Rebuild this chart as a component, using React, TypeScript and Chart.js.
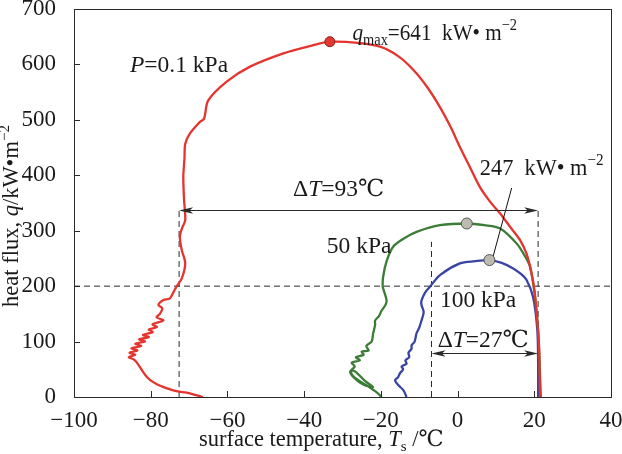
import React, { useEffect, useRef } from 'react';
import { Chart, registerables } from 'chart.js';

Chart.register(...registerables);

// ---- axes ----
const X_MIN = -100;
const X_MAX = 40;
const X_STEP = 20;
const Y_MIN = 0;
const Y_MAX = 700;
const Y_STEP = 100;

// ---- P = 0.1 kPa (red) ----
const p01Temp = [-66.4, -68.5, -70.6, -73, -75.5, -78.4, -81, -83.7, -84.5, -85.7, -84, -85.5, -83.5, -85, -82.5, -84, -81.5, -83, -80.5, -82, -79.5, -80.5, -78.4, -79.5, -76.7, -78.5, -77.6, -77, -78, -76.7, -75, -74, -73.2, -71.9, -71, -71.9, -72.4, -71.8, -71, -71.3, -71.5, -71.2, -71, -69.8, -67.2, -66.1, -65, -60.2, -54.1, -45.4, -38, -33.3, -26, -20.2, -15.5, -11.5, -7.8, -4.6, -1.8, 0.6, 3.2, 5.8, 8.5, 11.1, 13.8, 16.3, 18, 19.3, 20.1, 20.6, 21.1, 21.3, 21.4, 21.5];
const p01Flux = [0, 4, 8, 10, 15, 23, 36, 63, 68, 72, 76, 80, 84, 88, 92, 96, 100, 104, 108, 112, 117, 122, 126, 131, 138, 144, 150, 160, 166, 175, 178, 190, 200, 214, 241, 265, 289, 305, 319, 355, 397, 430, 457, 475, 496, 502, 535, 569, 596, 620, 634, 641, 639, 632, 615, 590, 558, 523, 487, 451, 415, 379, 352, 331, 306, 283, 258, 223, 190, 150, 110, 80, 40, 0];

// ---- P = 50 kPa (green) ----
const p50Temp = [-19.8, -21, -23.5, -25.8, -27.5, -27.8, -26.5, -24, -22, -24.5, -27, -28, -26.8, -27.6, -25.5, -26.5, -24.5, -25, -23.2, -23.8, -22.4, -22, -21.5, -21.5, -20.5, -19.8, -18.8, -18.5, -18.9, -19.5, -19.4, -18.5, -16.8, -14, -10.7, -4.6, 2.4, 7, 11.1, 15.4, 17.5, 18.9, 20.2, 21, 21.4, 21.7];
const p50Flux = [0, 8, 20, 30, 40, 48, 45, 28, 18, 22, 35, 46, 55, 62, 66, 72, 76, 82, 84, 92, 100, 115, 130, 138, 146, 156, 166, 174, 185, 199, 217, 245, 271, 286, 298, 310, 313, 310, 304, 277, 255, 235, 180, 120, 60, 0];

// ---- P = 100 kPa (blue) ----
const p100Temp = [-13.3, -14.1, -15.4, -16.3, -15.5, -15, -14.2, -14.6, -13.3, -13.6, -12.6, -12.8, -12, -12, -11.2, -10.7, -10, -9.4, -8.9, -8.9, -9.4, -9.4, -8.5, -7.2, -4.6, 0.6, 4.5, 8.3, 11.5, 14.5, 16.5, 18, 19.7, 20.8, 21, 21];
const p100Flux = [0, 12, 21, 30, 36, 43, 50, 55, 60, 66, 72, 80, 87, 93, 100, 115, 125, 138, 150, 156, 166, 174, 188, 199, 220, 241, 245, 247, 242, 232, 222, 211, 180, 120, 60, 0];

// ---- critical heat flux markers ----
const chfTemp = [-33.3, 2.4, 8.3];
const chfFlux = [641, 313, 247];

// ---- reference values ----
const refFlux = 200;
const dTLeft93 = -72.6;
const dTRight = 21;
const dTLeft27 = -6.8;
const arrow93Flux = 337;
const arrow27Flux = 79;
const vLine27Top = 280;
const leaderTemp = [14.1, 9.2];
const leaderFlux = [377, 252];

const RED = '#e5332e';
const GREEN = '#3b7d35';
const BLUE = '#3a45a3';
const INK = '#2a2a2a';
const FONT = '"Liberation Serif", "DejaVu Serif", "Times New Roman", serif';
const FS = 23.5;
const TFS = 23;

type Run = { t: string; i?: boolean; sub?: boolean; sup?: boolean };

const zip = (xs: number[], ys: number[]) => xs.map((x, k) => ({ x, y: ys[k] }));

function runFont(r: Run, size: number) {
  const s = r.sub || r.sup ? Math.round(size * 0.66) : size;
  return `${r.i ? 'italic ' : ''}${s}px ${FONT}`;
}
function runsWidth(ctx: CanvasRenderingContext2D, runs: Run[], size: number) {
  let w = 0;
  for (const r of runs) {
    ctx.font = runFont(r, size);
    w += ctx.measureText(r.t).width;
  }
  return w;
}
function drawRuns(ctx: CanvasRenderingContext2D, x: number, y: number, runs: Run[], size: number, sx = 1) {
  ctx.save();
  ctx.translate(x, y);
  ctx.scale(sx, 1);
  ctx.textBaseline = 'alphabetic';
  ctx.textAlign = 'left';
  let cx = 0;
  for (const r of runs) {
    ctx.font = runFont(r, size);
    const dy = r.sub ? size * 0.22 : r.sup ? -size * 0.42 : 0;
    ctx.fillText(r.t, cx, dy);
    cx += ctx.measureText(r.t).width;
  }
  ctx.restore();
}

// annotation anchors (left, baseline) in data units
const labels: { x: number; y: number; runs: Run[]; sx?: number }[] = [
  { x: -85.4, y: 586, runs: [{ t: 'P', i: true }, { t: '=0.1 kPa' }] },
  { x: -27.4, y: 644, sx: 0.9, runs: [{ t: 'q', i: true }, { t: 'max', sub: true }, { t: '=641  kW• m' }, { t: '−2', sup: true }] },
  { x: 5.8, y: 400, sx: 0.95, runs: [{ t: '247  kW• m' }, { t: '−2', sup: true }] },
  { x: -42.9, y: 363, runs: [{ t: 'Δ' }, { t: 'T', i: true }, { t: '=93℃' }] },
  { x: -34.1, y: 259, runs: [{ t: '50 kPa' }] },
  { x: -4.6, y: 162, runs: [{ t: '100 kPa' }] },
  { x: -5.2, y: 90, runs: [{ t: 'Δ' }, { t: 'T', i: true }, { t: '=27℃' }] },
];

const xTitle: Run[] = [{ t: 'surface temperature, ' }, { t: 'T', i: true }, { t: 's', sub: true }, { t: ' /℃' }];
const yTitle: Run[] = [{ t: 'heat flux, ' }, { t: 'q', i: true }, { t: '/kW•m' }, { t: '−2', sup: true }];

function arrowHead(ctx: CanvasRenderingContext2D, x: number, y: number, dir: number) {
  const L = 14, W = 3.2;
  ctx.beginPath();
  ctx.moveTo(x, y);
  ctx.lineTo(x - dir * L, y - W);
  ctx.lineTo(x - dir * L * 0.75, y);
  ctx.lineTo(x - dir * L, y + W);
  ctx.closePath();
  ctx.fill();
}

const overlay = {
  id: 'overlay',
  afterDraw(chart: any) {
    const ctx: CanvasRenderingContext2D = chart.ctx;
    const xs = chart.scales.x;
    const ys = chart.scales.y;
    const a = chart.chartArea;
    ctx.save();
    ctx.strokeStyle = INK;
    ctx.fillStyle = INK;
    ctx.lineWidth = 1;
    // frame
    ctx.strokeRect(Math.round(a.left) + 0.5, Math.round(a.top) + 0.5, Math.round(a.right - a.left), Math.round(a.bottom - a.top));
    // inward ticks
    ctx.beginPath();
    for (let v = X_MIN + X_STEP; v < X_MAX; v += X_STEP) {
      const px = Math.round(xs.getPixelForValue(v)) + 0.5;
      ctx.moveTo(px, a.bottom);
      ctx.lineTo(px, a.bottom - 6);
    }
    for (let v = Y_MIN + Y_STEP; v < Y_MAX; v += Y_STEP) {
      const py = Math.round(ys.getPixelForValue(v)) + 0.5;
      ctx.moveTo(a.left, py);
      ctx.lineTo(a.left + 6, py);
    }
    ctx.stroke();
    // arrows
    const arrows = [
      { y: arrow93Flux, x1: dTLeft93, x2: dTRight },
      { y: arrow27Flux, x1: dTLeft27, x2: dTRight },
    ];
    for (const ar of arrows) {
      const py = Math.round(ys.getPixelForValue(ar.y)) + 0.5;
      const p1 = xs.getPixelForValue(ar.x1);
      const p2 = xs.getPixelForValue(ar.x2);
      ctx.beginPath();
      ctx.moveTo(p1 + 4, py);
      ctx.lineTo(p2 - 4, py);
      ctx.stroke();
      arrowHead(ctx, p1, py, -1);
      arrowHead(ctx, p2, py, 1);
    }
    // annotations
    ctx.fillStyle = '#1a1a1a';
    for (const lb of labels) {
      drawRuns(ctx, xs.getPixelForValue(lb.x), ys.getPixelForValue(lb.y), lb.runs, FS, lb.sx ?? 1);
    }
    // axis titles
    drawRuns(ctx, 199, 446, xTitle, 22.5);
    ctx.translate(18, (a.top + a.bottom) / 2 + 13);
    ctx.rotate(-Math.PI / 2);
    const w = runsWidth(ctx, yTitle, 22.5);
    drawRuns(ctx, -w / 2, 0, yTitle, 22.5);
    ctx.restore();
  },
};

const minus = (v: number) => (v < 0 ? '−' + Math.abs(v) : String(v));

export default function App() {
  const ref = useRef<HTMLCanvasElement>(null);
  useEffect(() => {
    document.body.style.margin = '0';
    const dashed = { borderColor: INK, borderWidth: 1, borderDash: [6, 4], pointRadius: 0, showLine: true, order: 3, fill: false, tension: 0 };
    const curve = { borderWidth: 2.3, pointRadius: 0, showLine: true, order: 2, tension: 0.3 };
    const chart = new Chart(ref.current as HTMLCanvasElement, {
      type: 'scatter',
      data: {
        datasets: [
          {
            label: 'CHF',
            data: zip(chfTemp, chfFlux),
            pointRadius: [5, 5.5, 5.5],
            pointBackgroundColor: ['#e23a33', '#bdbab2', '#bdbab2'],
            pointBorderColor: ['#8a1a16', '#555', '#555'],
            pointBorderWidth: 1,
            showLine: false,
            order: 0,
          } as any,
          { label: 'leader', data: zip(leaderTemp, leaderFlux), borderColor: '#111', borderWidth: 1, pointRadius: 0, showLine: true, order: 1, tension: 0 } as any,
          { ...curve, label: '0.1 kPa', data: zip(p01Temp, p01Flux), borderColor: RED } as any,
          { ...curve, label: '50 kPa', data: zip(p50Temp, p50Flux), borderColor: GREEN } as any,
          { ...curve, label: '100 kPa', data: zip(p100Temp, p100Flux), borderColor: BLUE } as any,
          { ...dashed, label: 'ref', data: [{ x: X_MIN, y: refFlux }, { x: X_MAX, y: refFlux }] } as any,
          { ...dashed, label: 'v1', data: [{ x: dTLeft93, y: 0 }, { x: dTLeft93, y: arrow93Flux }] } as any,
          { ...dashed, label: 'v2', data: [{ x: dTRight, y: 0 }, { x: dTRight, y: arrow93Flux }] } as any,
          { ...dashed, label: 'v3', data: [{ x: dTLeft27, y: 0 }, { x: dTLeft27, y: vLine27Top }] } as any,
        ],
      },
      options: {
        responsive: false,
        animation: false,
        devicePixelRatio: 1,
        layout: { padding: { top: 9, right: 11, left: 0, bottom: 0 } },
        plugins: { legend: { display: false }, tooltip: { enabled: false } },
        scales: {
          x: {
            type: 'linear',
            min: X_MIN,
            max: X_MAX,
            grid: { display: false },
            border: { display: true, color: INK, width: 1 },
            ticks: { stepSize: X_STEP, padding: 2, color: '#1a1a1a', font: { family: FONT, size: TFS }, callback: (v: any) => minus(Number(v)), maxRotation: 0, autoSkip: false },
            afterFit: (s: any) => { s.height = 57; s.paddingLeft = 0; s.paddingRight = 0; },
          },
          y: {
            type: 'linear',
            min: Y_MIN,
            max: Y_MAX,
            grid: { display: false },
            border: { display: true, color: INK, width: 1 },
            ticks: { stepSize: Y_STEP, padding: 10, color: '#1a1a1a', font: { family: FONT, size: TFS }, autoSkip: false },
            afterFit: (s: any) => { s.width = 74; s.paddingTop = 0; s.paddingBottom = 0; },
          },
        },
      } as any,
      plugins: [overlay],
    });
    return () => chart.destroy();
  }, []);
  return (
    <div style={{ position: 'absolute', left: 0, top: 0, width: 622, height: 454, background: '#fff' }}>
      <canvas ref={ref} width={622} height={454} />
    </div>
  );
}
